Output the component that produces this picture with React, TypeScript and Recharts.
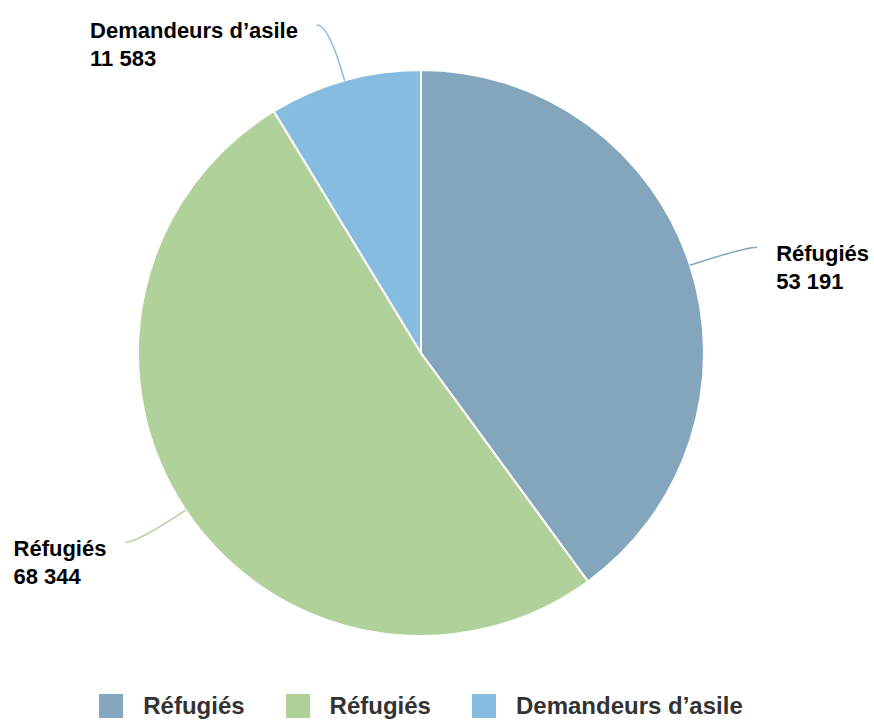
import { PieChart, Pie, Cell, Legend } from 'recharts'

const categories = ['Réfugiés', 'Réfugiés', 'Demandeurs d’asile']
const values = [53191, 68344, 11583]
const colors = ['#84a6bd', '#b0d19a', '#85bcdf']

const FONT = "'Liberation Sans', Arial, Helvetica, sans-serif"
const LABEL_SIZE = 22
const RADIAN = Math.PI / 180

const chartData = categories.map((name, i) => ({ name, value: values[i], color: colors[i] }))

function formatNombre(n: number): string {
  return String(n).replace(/\B(?=(\d{3})+(?!\d))/g, ' ')
}

let ctx: CanvasRenderingContext2D | null = null
function textWidth(s: string): number {
  if (!ctx) ctx = document.createElement('canvas').getContext('2d')
  if (!ctx) return s.length * LABEL_SIZE * 0.55
  ctx.font = `bold ${LABEL_SIZE}px ${FONT}`
  return ctx.measureText(s).width
}

function renderLabel(props: any) {
  const { cx, cy, midAngle, outerRadius, index } = props
  const cos = Math.cos(-midAngle * RADIAN)
  const sin = Math.sin(-midAngle * RADIAN)
  const sx = cx + outerRadius * cos
  const sy = cy + outerRadius * sin
  const mx = cx + (outerRadius + 58) * cos
  const my = cy + (outerRadius + 58) * sin
  const right = cos >= 0
  const ex = mx + (right ? 12 : -12)
  const ey = my
  const d = chartData[index]
  const l1 = d.name
  const l2 = formatNombre(d.value)
  const w = Math.max(textWidth(l1), textWidth(l2))
  const tx = right ? ex + 19 : ex - 19 - w
  return (
    <g>
      <path d={`M${sx},${sy} Q${mx},${my} ${ex},${ey}`} stroke={d.color} strokeWidth={1.5} fill="none" />
      <text x={tx} y={ey + 6} fill="#000" fontFamily={FONT} fontWeight={700} fontSize={LABEL_SIZE} dominantBaseline="central">
        {l1}
      </text>
      <text x={tx} y={ey + 34} fill="#000" fontFamily={FONT} fontWeight={700} fontSize={LABEL_SIZE} dominantBaseline="central">
        {l2}
      </text>
    </g>
  )
}

function renderLegend() {
  return (
    <div style={{ display: 'flex', justifyContent: 'center', alignItems: 'center', gap: 41, paddingRight: 32 }}>
      {chartData.map((d, i) => (
        <div key={i} style={{ display: 'flex', alignItems: 'center', gap: 20 }}>
          <span style={{ width: 24, height: 24, background: d.color, display: 'inline-block' }} />
          <span style={{ fontFamily: FONT, fontWeight: 700, fontSize: 24, color: '#333' }}>{d.name}</span>
        </div>
      ))}
    </div>
  )
}

export default function App() {
  return (
    <div style={{ position: 'absolute', left: 0, top: 0, background: '#fff' }}>
      <PieChart width={874} height={722} margin={{ top: 0, right: 0, bottom: 0, left: 0 }}>
        <Pie
          data={chartData}
          dataKey="value"
          nameKey="name"
          cx={421}
          cy={353}
          outerRadius={283}
          startAngle={90}
          endAngle={-270}
          stroke="#ffffff"
          strokeWidth={2}
          label={renderLabel}
          labelLine={false}
          isAnimationActive={false}
        >
          {chartData.map((d, i) => (
            <Cell key={i} fill={d.color} />
          ))}
        </Pie>
        <Legend
          verticalAlign="bottom"
          align="center"
          content={renderLegend}
          wrapperStyle={{ bottom: 2 }}
        />
      </PieChart>
    </div>
  )
}
